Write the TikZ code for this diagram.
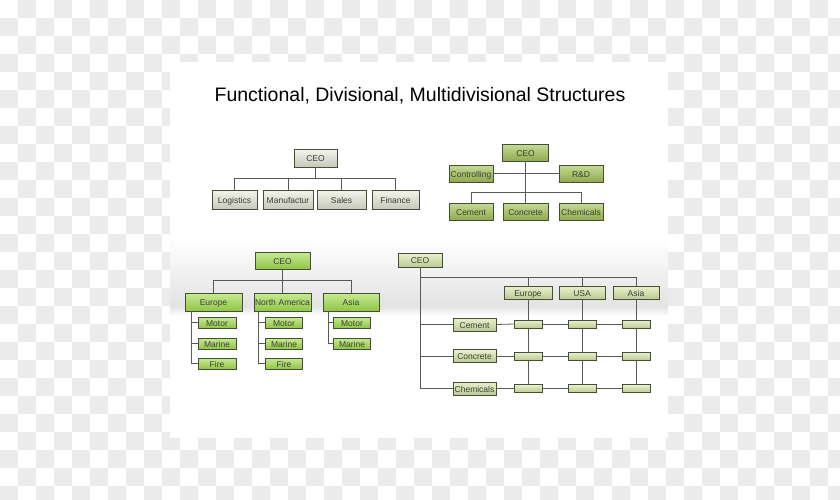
\documentclass[tikz,border=0pt]{standalone}
\usepackage{fontspec}
\setmainfont{Liberation Sans}
\usepackage{tikz}
\usetikzlibrary{positioning,calc}
\definecolor{checkgrey}{RGB}{235,235,235}
\definecolor{boxline}{RGB}{70,78,56}
\definecolor{wire}{RGB}{88,88,88}
\definecolor{boxtext}{RGB}{60,64,52}
\definecolor{funcfill}{RGB}{226,229,210}
\definecolor{divfill}{RGB}{168,200,92}
\definecolor{multifill}{RGB}{160,220,78}
\definecolor{matfill}{RGB}{214,230,166}
\newcommand{\boxfont}{\fontsize{8.5}{10}\selectfont}

\begin{document}
\begin{tikzpicture}[x=1pt, y=-1pt,
  unit/.style 2 args={draw=boxline, line width=0.8pt, text=boxtext, font=\boxfont,
    inner xsep=1pt, inner ysep=0pt, text width=#1-2pt, align=center,
    text height=7pt, text depth=0pt, minimum height=#2},
  funcbox/.style 2 args={unit={#1}{#2}, top color=funcfill!40, bottom color=funcfill!85!black!90},
  divbox/.style 2 args={unit={#1}{#2}, top color=divfill!65!white, bottom color=divfill!85!black},
  multibox/.style 2 args={unit={#1}{#2}, top color=multifill!60!white, bottom color=multifill!90!black},
  matbox/.style 2 args={unit={#1}{#2}, top color=matfill!55!white, bottom color=matfill!88!black},
  link/.style={draw=wire, line width=0.8pt}]
  \useasboundingbox (0,0) rectangle (840,500);

  % checkerboard and slide
  \foreach \i in {0,...,46} {
    \foreach \j in {0,...,27} {
      \pgfmathtruncatemacro\odd{mod(\i+\j,2)}
      \ifnum\odd=1 \fill[checkgrey] (18*\i,18*\j) rectangle ++(18,18); \fi
    }
  }
  \fill[white] (170,62) rectangle (668,438);
  \shade[top color=white, bottom color=black!11] (170,238) rectangle (668,306);
  \shade[top color=black!11, bottom color=white] (170,306) rectangle (668,316);

  \node[font=\fontsize{19.5}{22}\selectfont, text=black] (title) at (420,96)
    {Functional, Divisional, Multidivisional Structures};

  % functional
  \node[funcbox={43}{18}] (fceo) at (315.5,158) {CEO};
  \node[funcbox={45}{19}] (flog) at (234.5,199.5) {Logistics};
  \node[funcbox={50}{19}] (fman) at (288,199.5) {Manufactur};
  \node[funcbox={49}{19}] (fsal) at (341.5,199.5) {Sales};
  \node[funcbox={47}{19}] (ffin) at (395.5,199.5) {Finance};
  \foreach \kid in {flog,fman,fsal,ffin}
    \draw[link] (fceo.south) -- ++(0,11) -| (\kid.north);

  % divisional
  \node[divbox={46}{17}] (dceo) at (525.5,152.5) {CEO};
  \node[divbox={44}{17}] (dctl) at (471,173.5) {Controlling};
  \node[divbox={44}{17}] (drd) at (581,173.5) {R\&D};
  \node[divbox={44}{17}] (dcem) at (471,211.5) {Cement};
  \node[divbox={45}{17}] (dcon) at (525.5,211.5) {Concrete};
  \node[divbox={44}{17}] (dche) at (581,211.5) {Chemicals};
  \draw[link] (dctl.east) -- (drd.west);
  \foreach \kid in {dcem,dcon,dche}
    \draw[link] (dceo.south) -- ++(0,31) -| (\kid.north);

  % multidivisional
  \node[multibox={55}{17}] (mceo) at (282.5,260.5) {CEO};
  \node[multibox={57}{18}] (meu) at (213.5,302) {Europe};
  \node[multibox={57}{18}] (mna) at (282.5,302) {North America};
  \node[multibox={56}{18}] (mas) at (351,302) {Asia};
  \foreach \kid in {meu,mna,mas}
    \draw[link] (mceo.south) -- ++(0,11) -| (\kid.north);
  \node[multibox={38}{11}] (meu1) at (217,322.5) {Motor};
  \node[multibox={38}{11}] (meu2) at (217,343.5) {Marine};
  \node[multibox={38}{11}] (meu3) at (217,363.5) {Fire};
  \node[multibox={37}{11}] (mna1) at (284,322.5) {Motor};
  \node[multibox={37}{11}] (mna2) at (284,343.5) {Marine};
  \node[multibox={37}{11}] (mna3) at (284,363.5) {Fire};
  \node[multibox={37}{11}] (mas1) at (352,322.5) {Motor};
  \node[multibox={37}{11}] (mas2) at (352,343.5) {Marine};
  \foreach \kid in {meu1,meu2,meu3}
    \draw[link] ([xshift=7]meu.south west) |- (\kid.west);
  \foreach \kid in {mna1,mna2,mna3}
    \draw[link] ([xshift=5]mna.south west) |- (\kid.west);
  \foreach \kid in {mas1,mas2}
    \draw[link] ([xshift=6]mas.south west) |- (\kid.west);

  % matrix
  \node[matbox={44}{14}] (xceo) at (420,260) {CEO};
  \node[matbox={48}{13}] (xc1) at (528,292.5) {Europe};
  \node[matbox={46}{13}] (xc2) at (582,292.5) {USA};
  \node[matbox={46}{13}] (xc3) at (636,292.5) {Asia};
  \node[matbox={43}{13}] (xr1) at (474.5,324.5) {Cement};
  \node[matbox={43}{13}] (xr2) at (474.5,356) {Concrete};
  \node[matbox={43}{13}] (xr3) at (474.5,388.5) {Chemicals};
  \foreach \c in {1,2,3}
    \draw[link] (xceo.south) -- ++(0,10) -| (xc\c.north);
  \foreach \r in {1,2,3}
    \draw[link] (xceo.south) |- (xr\r.west);
  \foreach \r/\y in {1/324,2/356,3/388.5} {
    \foreach \c/\x in {1/528,2/582,3/636}
      \node[matbox={28}{8}, text height=0pt, text depth=0pt] (x\r\c) at (\x,\y) {};
    \draw[link] (xr\r.east) -- (x\r1.west);
    \draw[link] (x\r1.east) -- (x\r2.west);
    \draw[link] (x\r2.east) -- (x\r3.west);
  }
  \foreach \c in {1,2,3} {
    \draw[link] (xc\c.south) -- (x1\c.north);
    \draw[link] (x1\c.south) -- (x2\c.north);
    \draw[link] (x2\c.south) -- (x3\c.north);
  }
\end{tikzpicture}
\end{document}
